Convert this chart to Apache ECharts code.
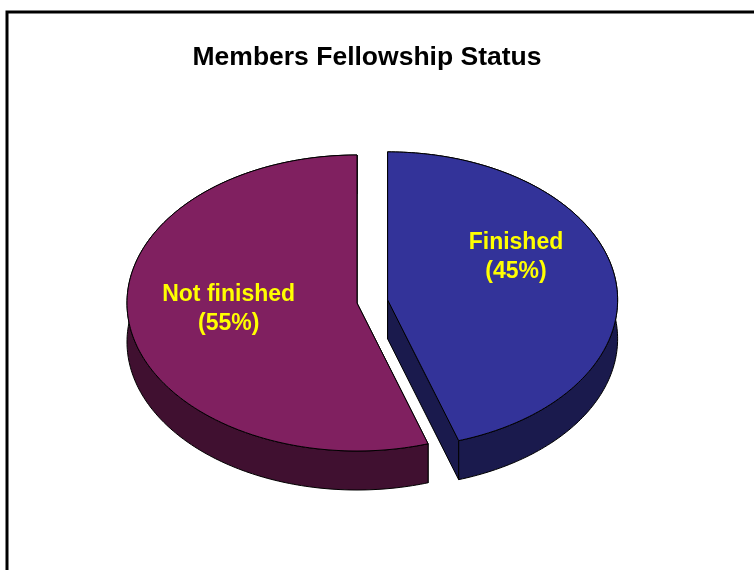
<!DOCTYPE html>
<html>
<head>
<meta charset="utf-8">
<script src="https://cdn.jsdelivr.net/npm/echarts@6/dist/echarts.min.js"></script>
<style>
  html, body { margin: 0; padding: 0; background: #fff; }
  #chart { width: 754px; height: 570px; }
</style>
</head>
<body>
<div id="chart"></div>
<script>
// data
const categories = ['Finished', 'Not finished'];
const shares = [45, 55];

// look
const topColors = ['#333399', '#802060'];
const sideColors = ['#1a1a4d', '#401030'];
const pie = { cx: 357, cy: 303, rx: 230, ry: 148, depth: 39, startDeg: -90 };
const explode = [31, 0];
const labelNudge = [[0, -30], [0, -7]];

const total = shares.reduce((a, b) => a + b, 0);
const DEG = Math.PI / 180;

// points along the ellipse rim, t in degrees (clockwise on screen)
function arc(cx, cy, t1, t2, dz) {
  const pts = [];
  const n = Math.max(2, Math.ceil(Math.abs(t2 - t1)));
  for (let k = 0; k <= n; k++) {
    const t = (t1 + (t2 - t1) * k / n) * DEG;
    pts.push([cx + pie.rx * Math.cos(t), cy + pie.ry * Math.sin(t) + dz]);
  }
  return pts;
}

function renderSlice(params, api) {
  const i = params.dataIndex;
  let before = 0;
  for (let k = 0; k < i; k++) before += shares[k];
  const value = api.value(0);
  const t1 = pie.startDeg + before / total * 360;
  const t2 = t1 + value / total * 360;
  const mid = (t1 + t2) / 2 * DEG;
  const cx = pie.cx + explode[i] * Math.cos(mid);
  const cy = pie.cy + explode[i] * pie.ry / pie.rx * Math.sin(mid);
  const d = pie.depth;
  const line = { stroke: '#000', lineWidth: 1, lineJoin: 'round' };

  // the two cut faces
  const faces = [t1, t2].map(function (t) {
    const p = arc(cx, cy, t, t, 0)[0];
    return {
      type: 'polygon',
      shape: { points: [[cx, cy], p, [p[0], p[1] + d], [cx, cy + d]] },
      style: Object.assign({ fill: sideColors[i] }, line)
    };
  });

  // outer wall
  const wall = {
    type: 'polygon',
    shape: { points: arc(cx, cy, t1, t2, 0).concat(arc(cx, cy, t1, t2, d).reverse()) },
    style: Object.assign({ fill: sideColors[i] }, line)
  };

  // top surface
  const top = {
    type: 'polygon',
    shape: { points: [[cx, cy]].concat(arc(cx, cy, t1, t2, 0)) },
    style: Object.assign({ fill: topColors[i] }, line)
  };

  const label = {
    type: 'text',
    x: cx + 0.565 * pie.rx * Math.cos(mid) + labelNudge[i][0],
    y: cy + 0.565 * pie.ry * Math.sin(mid) + labelNudge[i][1],
    style: {
      text: categories[i] + '\n(' + Math.round(value / total * 100) + '%)',
      fill: '#ffff00',
      font: 'bold 23px "Liberation Sans", Arial, sans-serif',
      align: 'center',
      verticalAlign: 'middle',
      lineHeight: 29
    }
  };

  return { type: 'group', children: faces.concat([wall, top, label]) };
}

const myChart = echarts.init(document.getElementById('chart'));
const option = {
  backgroundColor: '#fff',
  animation: false,
  graphic: [
    {
      type: 'rect',
      shape: { x: 7, y: 12, width: 780, height: 600 },
      style: { fill: 'none', stroke: '#000', lineWidth: 3 },
      silent: true
    },
    {
      type: 'text',
      x: 367,
      y: 58,
      style: {
        text: 'Members Fellowship Status',
        fill: '#000',
        font: 'bold 26.5px "Liberation Sans", Arial, sans-serif',
        align: 'center',
        verticalAlign: 'middle'
      }
    }
  ],
  series: [
    {
      type: 'custom',
      coordinateSystem: 'none',
      renderItem: renderSlice,
      data: shares.map(function (v, i) { return { name: categories[i], value: [v] }; })
    }
  ]
};
myChart.setOption(option);
</script>
</body>
</html>
